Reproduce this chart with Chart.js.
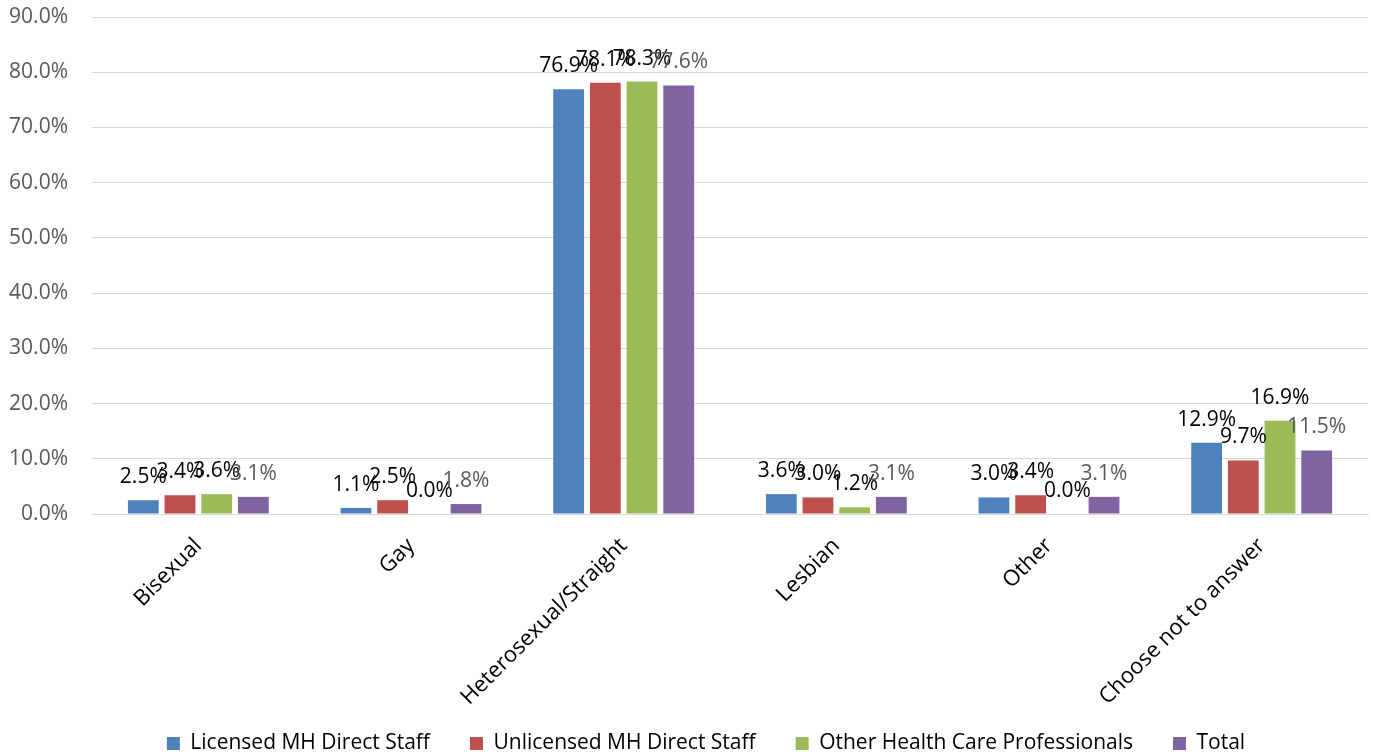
<!DOCTYPE html>
<html>
<head>
<meta charset="utf-8">
<script src="https://cdn.jsdelivr.net/npm/chart.js@4.4.1/dist/chart.umd.min.js"></script>
<style>
html,body{margin:0;padding:0;background:#fff;}
#wrap{width:1374px;height:754px;}
</style>
</head>
<body>
<div id="wrap"><canvas id="c" width="1374" height="754"></canvas></div>
<script>
const categories = ['Bisexual', 'Gay', 'Heterosexual/Straight', 'Lesbian', 'Other', 'Choose not to answer'];
const seriesNames = ['Licensed MH Direct Staff', 'Unlicensed MH Direct Staff', 'Other Health Care Professionals', 'Total'];
const licensedMH = [2.5, 1.1, 76.9, 3.6, 3.0, 12.9];
const unlicensedMH = [3.4, 2.5, 78.1, 3.0, 3.4, 9.7];
const otherHCP = [3.6, 0.0, 78.3, 1.2, 0.0, 16.9];
const totalAll = [3.1, 1.8, 77.6, 3.1, 3.1, 11.5];
const yMin = 0, yMax = 90, yStep = 10;

const colors = ['#4F81BD', '#C0504D', '#9BBB59', '#8064A2'];
const labelColors = ['#000000', '#000000', '#000000', '#595959'];
const mainFont = "'Open Sans', 'DejaVu Sans', sans-serif";

const valueLabels = {
  id: 'valueLabels',
  afterDatasetsDraw(chart) {
    const ctx = chart.ctx;
    ctx.save();
    ctx.font = "21px " + mainFont;
    ctx.textAlign = 'center';
    ctx.textBaseline = 'alphabetic';
    chart.data.datasets.forEach((ds, i) => {
      const meta = chart.getDatasetMeta(i);
      ctx.fillStyle = labelColors[i];
      meta.data.forEach((el, j) => {
        ctx.fillText(ds.data[j].toFixed(1) + '%', el.x, el.y - 17);
      });
    });
    ctx.restore();
  }
};

// nudge the legend block to where the original placed it
const legendPlacer = {
  id: 'legendPlacer',
  afterLayout(chart) {
    const lg = chart.legend;
    if (!lg) return;
    const dx = 22;
    lg.left += dx; lg.right += dx;
    const h = lg.bottom - lg.top;
    lg.top = 693; lg.bottom = lg.top + h;
  }
};

const allSeries = [licensedMH, unlicensedMH, otherHCP, totalAll];
new Chart(document.getElementById('c'), {
  type: 'bar',
  data: {
    labels: categories,
    datasets: allSeries.map((d, i) => ({
      label: seriesNames[i],
      data: d,
      backgroundColor: colors[i],
      borderWidth: 0,
      barPercentage: 0.84,
      categoryPercentage: 0.69
    }))
  },
  options: {
    responsive: false,
    animation: false,
    layout: { padding: { top: 17, right: 6, left: 0, bottom: -21 } },
    plugins: {
      legend: {
        position: 'bottom',
        labels: {
          font: { family: mainFont, size: 21 },
          color: '#000',
          boxWidth: 13,
          boxHeight: 13,
          padding: 40
        }
      },
      tooltip: { enabled: false }
    },
    scales: {
      x: {
        grid: { display: false },
        border: { color: '#d9d9d9', width: 1 },
        ticks: {
          font: { family: mainFont, size: 22 },
          color: '#000',
          minRotation: 45,
          maxRotation: 45,
          padding: 11
        },
        afterFit(scale) { scale.height = 190; scale.paddingLeft = 0; scale.paddingRight = 0; }
      },
      y: {
        min: yMin,
        max: yMax,
        grid: { color: '#d9d9d9', drawTicks: false },
        border: { display: false },
        ticks: {
          stepSize: yStep,
          font: { family: mainFont, size: 21 },
          color: '#595959',
          padding: 24,
          callback: v => v.toFixed(1) + '%'
        },
        afterFit(scale) { scale.width = 92; scale.paddingTop = 0; scale.paddingBottom = 0; }
      }
    }
  },
  plugins: [valueLabels, legendPlacer]
});
</script>
</body>
</html>
